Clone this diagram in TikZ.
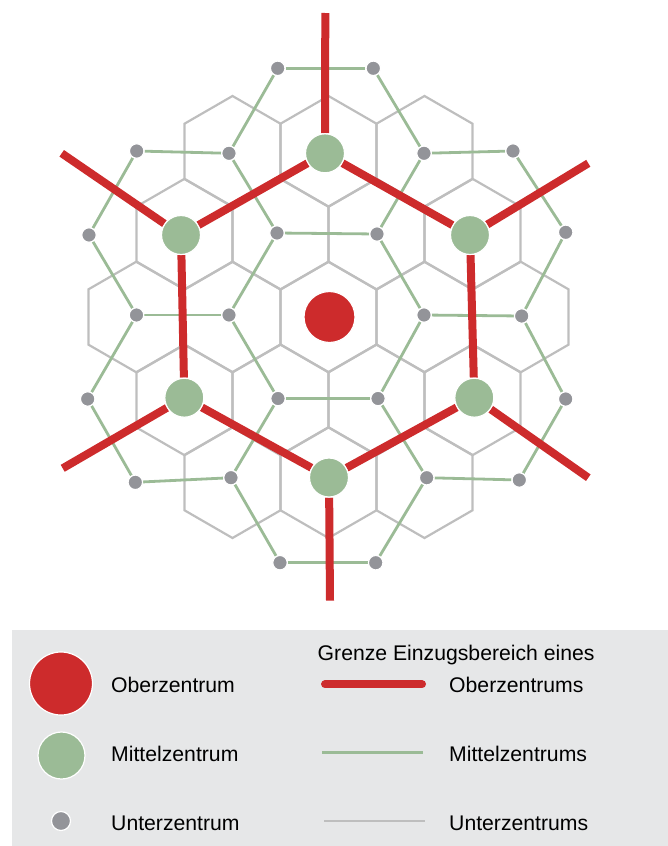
\documentclass[tikz,border=0pt]{standalone}
\usepackage{fontspec}
\setmainfont{Liberation Sans}
\pgfdeclarelayer{bg}
\pgfsetlayers{bg,main}
\definecolor{ozred}{RGB}{205,43,44}
\definecolor{mzgreen}{RGB}{155,187,150}
\definecolor{uzgray}{RGB}{147,148,153}
\definecolor{hexgray}{RGB}{190,190,190}
\definecolor{legbg}{RGB}{230,231,232}
\begin{document}
\begin{tikzpicture}[x=1pt,y=-1pt,
  uz/.style={circle,fill=uzgray,draw=white,line width=1.2pt,minimum size=14.5pt,inner sep=0pt},
  mz/.style={circle,fill=mzgreen,draw=white,line width=1.2pt,minimum size=39pt,inner sep=0pt},
  oz/.style={circle,fill=ozred,draw=white,line width=1.2pt,minimum size=51pt,inner sep=0pt},
  uzleg/.style={uz,minimum size=19pt},
  mzleg/.style={mz,minimum size=47pt},
  ozleg/.style={oz,minimum size=63pt},
  hexline/.style={draw=hexgray,line width=2.2pt},
  greenline/.style={draw=mzgreen,line width=2.8pt},
  redline/.style={draw=ozred,line width=8pt},
  legtext/.style={anchor=base west,inner sep=0pt,font=\fontsize{21.2}{25}\selectfont,text=black}
]
\useasboundingbox (0,0) rectangle (668,846);

% Unterzentren
\node[uz] (u1) at (277.7,68.3) {};
\node[uz] (u2) at (373.3,68.3) {};
\node[uz] (u3) at (136.7,151) {};
\node[uz] (u4) at (229,153.3) {};
\node[uz] (u5) at (424,153.3) {};
\node[uz] (u6) at (513,151) {};
\node[uz] (u7) at (89,235) {};
\node[uz] (u8) at (277,233) {};
\node[uz] (u9) at (377,234) {};
\node[uz] (u10) at (565.7,232.3) {};
\node[uz] (u11) at (136.5,315) {};
\node[uz] (u12) at (229,315) {};
\node[uz] (u13) at (424,315) {};
\node[uz] (u14) at (521.7,316) {};
\node[uz] (u15) at (87.7,399) {};
\node[uz] (u16) at (278,398.5) {};
\node[uz] (u17) at (378,398.5) {};
\node[uz] (u18) at (565.7,399) {};
\node[uz] (u19) at (135.3,482.3) {};
\node[uz] (u20) at (231,477.7) {};
\node[uz] (u21) at (426.7,477.7) {};
\node[uz] (u22) at (519.3,480) {};
\node[uz] (u23) at (280,562.7) {};
\node[uz] (u24) at (375.7,562.7) {};

% Mittelzentren
\node[mz] (m1) at (325,153.3) {};
\node[mz] (m2) at (181,235) {};
\node[mz] (m3) at (470,235) {};
\node[mz] (m4) at (184.3,397.7) {};
\node[mz] (m5) at (474.3,397.7) {};
\node[mz] (m6) at (329,477.5) {};

% Oberzentrum
\node[oz] (o) at (329.5,317) {};

% free ends of the boundary spokes
\coordinate (e1) at (325.3,13);
\coordinate (e2) at (61.7,153.3);
\coordinate (e3) at (588.3,163.3);
\coordinate (e4) at (62.7,468.3);
\coordinate (e5) at (588.3,477.7);
\coordinate (e6) at (330,600.7);

% legend
\node[ozleg] (lo) at (61,683.5) {};
\node[mzleg] (lm) at (61.5,755.5) {};
\node[uzleg] (lu) at (61,821) {};
\node[legtext] (t1) at (111,692) {Oberzentrum};
\node[legtext] (t2) at (111,761) {Mittelzentrum};
\node[legtext] (t3) at (111,830.7) {Unterzentrum};
\node[legtext] (t4) at (317.5,660) {Grenze Einzugsbereich eines};
\node[legtext] (t5) at (449,692) {Oberzentrums};
\node[legtext] (t6) at (449,761) {Mittelzentrums};
\node[legtext] (t7) at (449,830.7) {Unterzentrums};
\coordinate (lr1) at (325,684.3);
\coordinate (lr2) at (422,684.3);
\coordinate (lg1) at (322,752.7);
\coordinate (lg2) at (423,752.7);
\coordinate (lh1) at (324,820.7);
\coordinate (lh2) at (424.5,820.7);

\begin{pgfonlayer}{bg}
  \fill[legbg] (12,630) rectangle (668,846);
  % hexagonal grid of Unterzentrum areas
  \foreach \a/\j in {-2/-2,0/-2,2/-2,-3/-1,-1/-1,1/-1,3/-1,-4/0,-2/0,0/0,2/0,4/0,-3/1,-1/1,1/1,3/1,-2/2,0/2,2/2}{
    \draw[hexline] ({328.5+\a*48},{317+\j*82.8}) +(0,-55.4) -- +(48,-27.7) -- +(48,27.7) -- +(0,55.4) -- +(-48,27.7) -- +(-48,-27.7) -- cycle;
  }
  % Mittelzentrum boundaries
  \foreach \p/\q in {u1/u2,u2/u5,u5/u9,u9/u8,u8/u4,u4/u1,u3/u4,u8/u12,u12/u11,u11/u7,u7/u3,u5/u6,u6/u10,u10/u14,u14/u13,u13/u9,u13/u17,u17/u16,u16/u12,u16/u20,u20/u19,u19/u15,u15/u11,u14/u18,u18/u22,u22/u21,u21/u17,u21/u24,u24/u23,u23/u20}{
    \draw[greenline] (\p) -- (\q);
  }
  % Oberzentrum boundary
  \draw[redline] (m1) -- (m2);
  \draw[redline] (m2) -- (m4);
  \draw[redline] (m4) -- (m6);
  \draw[redline] (m6) -- (m5);
  \draw[redline] (m5) -- (m3);
  \draw[redline] (m3) -- (m1);
  \draw[redline] (m1) -- (e1);
  \draw[redline] (m2) -- (e2);
  \draw[redline] (m3) -- (e3);
  \draw[redline] (m4) -- (e4);
  \draw[redline] (m5) -- (e5);
  \draw[redline] (m6) -- (e6);
  % legend lines
  \draw[redline,line cap=round] (lr1) -- (lr2);
  \draw[greenline] (lg1) -- (lg2);
  \draw[draw=hexgray,line width=2.2pt] (lh1) -- (lh2);
\end{pgfonlayer}
\end{tikzpicture}
\end{document}
